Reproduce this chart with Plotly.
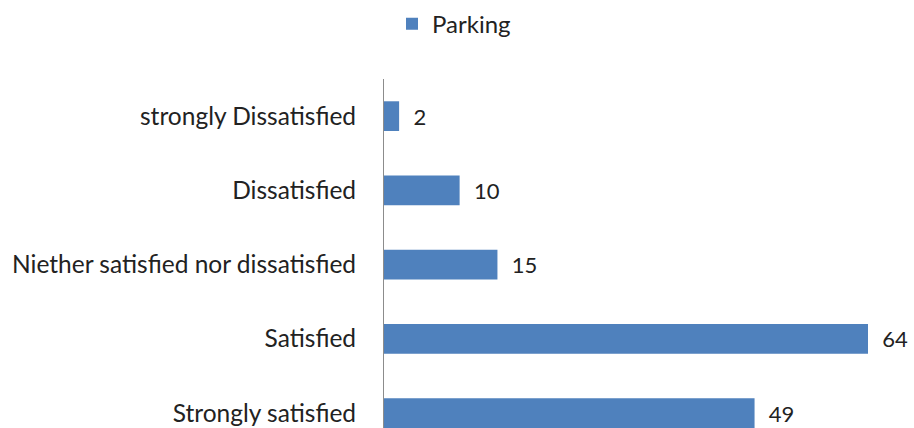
import plotly.graph_objects as go

categories = ["strongly Dissatisfied", "Dissatisfied", "Niether satisfied nor dissatisfied",
              "Satisfied", "Strongly satisfied"]
values = [2, 10, 15, 64, 49]
series_name = "Parking"

FONT = "Lato, Calibri, Carlito, sans-serif"
TXT = "#222222"

fig = go.Figure()
fig.add_trace(go.Bar(
    y=categories, x=values, orientation="h", name=series_name,
    marker=dict(color="#4F81BD", line=dict(width=0)),
    text=values, texttemplate="\u00a0\u00a0%{x}", textposition="outside",
    textfont=dict(family=FONT, size=22, color=TXT),
    cliponaxis=False,
))
fig.update_layout(
    width=914, height=428,
    margin=dict(l=384, r=40, t=79, b=0, autoexpand=False),
    paper_bgcolor="white", plot_bgcolor="white",
    bargap=0.6,
    font=dict(family=FONT, size=24, color=TXT),
    showlegend=True,
    legend=dict(orientation="h", x=392 / 914, xanchor="left", y=0.996, yanchor="top",
                xref="container", yref="container",
                font=dict(family=FONT, size=24, color=TXT)),
    xaxis=dict(range=[0, 490 / 7.5625], showgrid=False, showticklabels=False, zeroline=False,
               showline=False, ticks="", automargin=False),
    yaxis=dict(range=[4.2, -0.5], showgrid=False, showline=True, linecolor="#8c8c8c",
               linewidth=1, ticks="", ticklabelstandoff=22, automargin=False,
               tickfont=dict(family=FONT, size=24.5, color=TXT)),
)
fig.write_html("out.html", config={"displayModeBar": False},
               post_script="document.body.style.margin='0';document.body.style.overflow='hidden';")
